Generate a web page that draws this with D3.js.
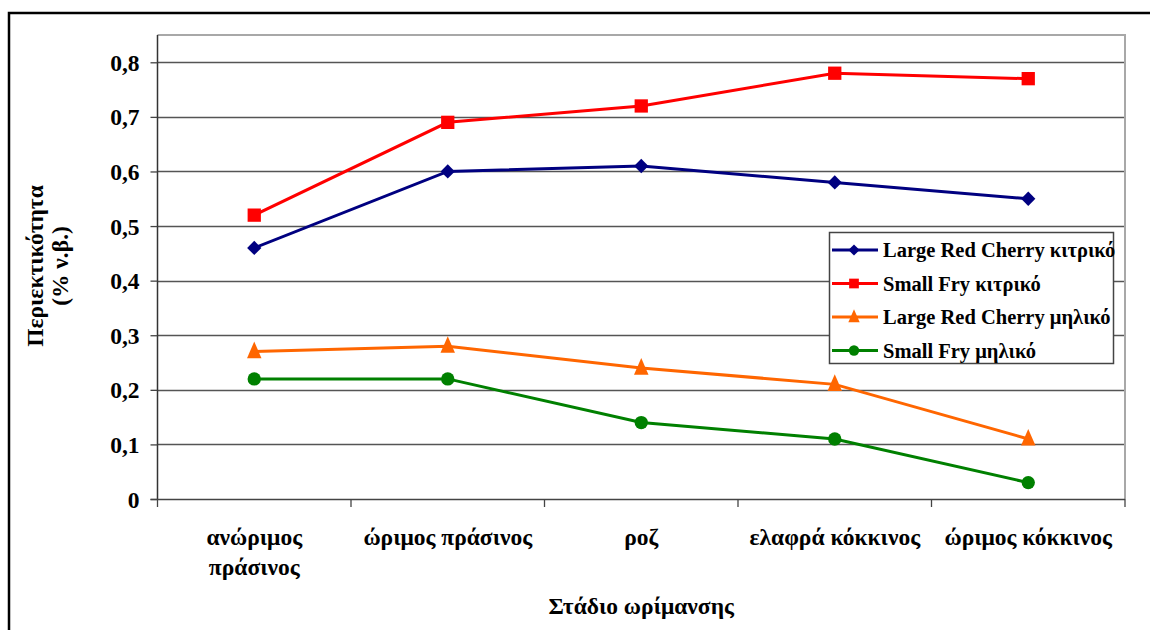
<!DOCTYPE html>
<html>
<head>
<meta charset="utf-8">
<script src="https://cdn.jsdelivr.net/npm/d3@7"></script>
<style>
  html, body { margin: 0; padding: 0; background: #fff; }
  svg { display: block; }
  text { font-family: "Liberation Serif", "Times New Roman", serif; font-weight: bold; fill: #000; }
</style>
</head>
<body>
<svg id="chart" width="1150" height="630"></svg>
<script>
// Ripening stages (x categories)
const stages = [
  ["ανώριμος", "πράσινος"],
  ["ώριμος πράσινος"],
  ["ροζ"],
  ["ελαφρά κόκκινος"],
  ["ώριμος κόκκινος"]
];

// Acid content (% fresh weight) per stage
const lrcCitric = [0.46, 0.60, 0.61, 0.58, 0.55];
const sfCitric  = [0.52, 0.69, 0.72, 0.78, 0.77];
const lrcMalic  = [0.27, 0.28, 0.24, 0.21, 0.11];
const sfMalic   = [0.22, 0.22, 0.14, 0.11, 0.03];

const seriesNames = [
  "Large Red Cherry κιτρικό",
  "Small Fry κιτρικό",
  "Large Red Cherry μηλικό",
  "Small Fry μηλικό"
];

const yTicks = [0, 0.1, 0.2, 0.3, 0.4, 0.5, 0.6, 0.7, 0.8];
const yTickLabels = ["0", "0,1", "0,2", "0,3", "0,4", "0,5", "0,6", "0,7", "0,8"];

// slightly tall triangle marker
const tallTriangle = {
  draw(ctx, size) {
    const w = Math.sqrt(size) * 1.0, h = w * 1.15;
    ctx.moveTo(0, -h * 0.6);
    ctx.lineTo(w / 2, h * 0.4);
    ctx.lineTo(-w / 2, h * 0.4);
    ctx.closePath();
  }
};

const series = [
  { name: seriesNames[0], values: lrcCitric, color: "#000080", symbol: d3.symbolDiamond2, size: 130, lsize: 80 },
  { name: seriesNames[1], values: sfCitric,  color: "#FF0000", symbol: d3.symbolSquare2,  size: 225, lsize: 120 },
  { name: seriesNames[2], values: lrcMalic,  color: "#FF6600", symbol: tallTriangle,      size: 210, lsize: 130 },
  { name: seriesNames[3], values: sfMalic,   color: "#008000", symbol: d3.symbolCircle,   size: 140, lsize: 85 }
];

const svg = d3.select("#chart");

// outer chart frame
svg.append("rect")
  .attr("x", 9).attr("y", 13)
  .attr("width", 1160).attr("height", 640)
  .attr("fill", "none").attr("stroke", "#000").attr("stroke-width", 2.5);

const plot = { left: 157.5, right: 1125, top: 35, bottom: 499 };

const x = d3.scaleBand()
  .domain(d3.range(stages.length))
  .range([plot.left, plot.right])
  .padding(0);

const y = d3.scaleLinear()
  .domain([0, 0.85])
  .range([plot.bottom, plot.top]);

const cx = i => x(i) + x.bandwidth() / 2;

// gridlines
svg.append("g")
  .selectAll("line")
  .data(yTicks.filter(v => v > 0))
  .join("line")
  .attr("x1", plot.left).attr("x2", plot.right)
  .attr("y1", d => Math.round(y(d)) + 0.5).attr("y2", d => Math.round(y(d)) + 0.5)
  .attr("stroke", "#555").attr("stroke-width", 1.3);

// plot area top and right edges
svg.append("path")
  .attr("d", `M${plot.left},${plot.top}H${plot.right}V${plot.bottom}`)
  .attr("fill", "none").attr("stroke", "#a8a8a8").attr("stroke-width", 2);

// y axis
const yAxis = d3.axisLeft(y)
  .tickValues(yTicks)
  .tickFormat((d, i) => yTickLabels[i])
  .tickSize(7)
  .tickPadding(11);

const yg = svg.append("g")
  .attr("transform", `translate(${plot.left},0)`)
  .call(yAxis);
yg.select(".domain").attr("stroke", "#333").attr("stroke-width", 1.5)
  .attr("d", `M0,${plot.top}V${plot.bottom}`);
yg.selectAll(".tick line").attr("stroke", "#444").attr("stroke-width", 1.3);
yg.selectAll(".tick text")
  .attr("font-size", 23.5)
  .attr("dy", "0.34em")
  .attr("font-family", "Liberation Serif, serif")
  .attr("font-weight", "bold")
  .attr("fill", "#000");

// x axis with ticks at category boundaries
const xg = svg.append("g").attr("transform", `translate(0,${plot.bottom})`);
xg.append("line")
  .attr("x1", plot.left - 7).attr("x2", plot.right)
  .attr("y1", 0.5).attr("y2", 0.5)
  .attr("stroke", "#444").attr("stroke-width", 1.5);
xg.selectAll("line.tick")
  .data(d3.range(stages.length + 1))
  .join("line")
  .attr("class", "tick")
  .attr("x1", i => i < stages.length ? x(i) : plot.right)
  .attr("x2", i => i < stages.length ? x(i) : plot.right)
  .attr("y1", 0).attr("y2", 8)
  .attr("stroke", "#444").attr("stroke-width", 1.3);

xg.selectAll("text.cat")
  .data(stages)
  .join("text")
  .attr("class", "cat")
  .attr("text-anchor", "middle")
  .attr("font-size", 23.5)
  .attr("x", (d, i) => cx(i))
  .attr("y", 46)
  .each(function (lines) {
    d3.select(this).selectAll("tspan")
      .data(lines)
      .join("tspan")
      .attr("x", d3.select(this).attr("x"))
      .attr("dy", (d, j) => j === 0 ? 0 : 30)
      .text(d => d);
  });

// axis titles
svg.append("text")
  .attr("x", (plot.left + plot.right) / 2)
  .attr("y", 614)
  .attr("text-anchor", "middle")
  .attr("font-size", 23.5)
  .text("Στάδιο ωρίμανσης");

const yt = svg.append("text")
  .attr("transform", "translate(43,266) rotate(-90)")
  .attr("text-anchor", "middle")
  .attr("font-size", 23.5);
yt.append("tspan").attr("x", 0).attr("dy", 0).text("Περιεκτικότητα");
yt.append("tspan").attr("x", 0).attr("dy", 25).text("(% ν.β.)");

// series lines and markers
const line = d3.line()
  .x((d, i) => cx(i))
  .y(d => y(d));

const sg = svg.append("g");
series.forEach(s => {
  sg.append("path")
    .datum(s.values)
    .attr("d", line)
    .attr("fill", "none")
    .attr("stroke", s.color)
    .attr("stroke-width", 3);
  sg.selectAll(null)
    .data(s.values)
    .join("path")
    .attr("transform", (d, i) => `translate(${cx(i)},${y(d)})`)
    .attr("d", d3.symbol().type(s.symbol).size(s.size))
    .attr("fill", s.color)
    .attr("stroke", "none");
});

// legend
const lg = svg.append("g").attr("transform", "translate(829,232)");
lg.append("rect")
  .attr("x", 0.5).attr("y", 0.5)
  .attr("width", 284).attr("height", 131)
  .attr("fill", "#fff").attr("stroke", "#444").attr("stroke-width", 1.5);

const rows = lg.selectAll("g.row")
  .data(series)
  .join("g")
  .attr("class", "row")
  .attr("transform", (d, i) => `translate(0,${18 + i * 33.5})`);
rows.append("line")
  .attr("x1", 3).attr("x2", 49)
  .attr("stroke", d => d.color).attr("stroke-width", 3);
rows.append("path")
  .attr("transform", "translate(25,0)")
  .attr("d", d => d3.symbol().type(d.symbol).size(d.lsize)())
  .attr("fill", d => d.color);
rows.append("text")
  .attr("x", 54)
  .attr("y", 7)
  .attr("font-size", 20.5)
  .text(d => d.name);
</script>
</body>
</html>
